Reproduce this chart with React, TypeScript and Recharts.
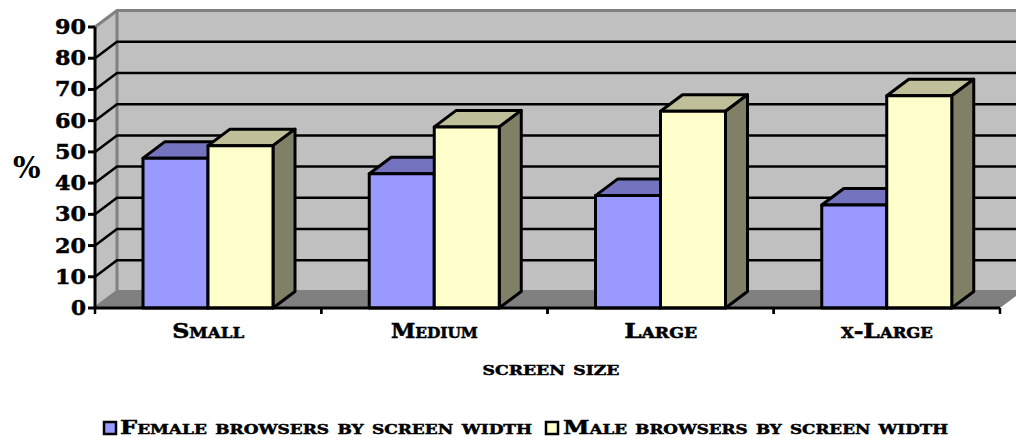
import React from 'react';
import { BarChart, Bar, XAxis, YAxis, CartesianGrid, ReferenceArea, Legend } from 'recharts';

const categories = ['Small', 'Medium', 'Large', 'x-Large'];
const femaleValues = [48, 43, 36, 33];
const maleValues = [52, 58, 63, 68];
const valueTicks = [0, 10, 20, 30, 40, 50, 60, 70, 80, 90];
const femaleName = 'Female browsers by screen width';
const maleName = 'Male browsers by screen width';
const rows = categories.map((name, i) => ({ name, female: femaleValues[i], male: maleValues[i] }));

const DX = 22;
const DY = 16.5;
const FONT = '"DejaVu Serif", serif';
const WALL = '#C0C0C0';
const EDGE = '#808080';
const PLOT_TOP = 27;
const PLOT_BOTTOM = 308;
const BAND = 226.25;

const heavy = { stroke: '#000', strokeWidth: 0.5, paintOrder: 'stroke' } as const;

const box3d = (front: string, top: string, side: string) => (p: any) => {
  const { x, y, width, height } = p;
  return (
    <g stroke="#000" strokeWidth={3} strokeLinejoin="round">
      <polygon points={`${x},${y} ${x + DX},${y - DY} ${x + width + DX},${y - DY} ${x + width},${y}`} fill={top} />
      <polygon points={`${x + width},${y} ${x + width + DX},${y - DY} ${x + width + DX},${y + height - DY} ${x + width},${y + height}`} fill={side} />
      <rect x={x} y={y} width={width} height={height} fill={front} />
    </g>
  );
};

// Side wall, back wall and floor of the 3D box, derived from the plot rectangle.
const Walls = (p: any) => {
  const { x, y, width, height } = p;
  const r = x + width;
  const b = y + height;
  return (
    <g>
      <polygon points={`${x},${y} ${x + DX},${y - DY} ${x + DX},${b - DY} ${x},${b}`} fill={WALL} />
      <rect x={x + DX} y={y - DY} width={width + 40} height={height} fill={WALL} />
      <polygon points={`${x},${b} ${x + DX},${b - DY} ${r + DX},${b - DY} ${r},${b}`} fill={EDGE} />
      <path d={`M${x},${y} L${x + DX},${y - DY} H${r + 40} M${x + DX},${y - DY} V${b - DY} L${x},${b} M${x + DX},${b - DY} H${r + 40}`} fill="none" stroke={EDGE} strokeWidth={3} />
    </g>
  );
};

// Each horizontal grid line runs along the side wall and across the back wall.
const gridLine = (p: any) => {
  const { x1, x2, y1 } = p;
  if (Math.abs(y1 - PLOT_TOP) < 1 || Math.abs(y1 - PLOT_BOTTOM) < 1) return <g key={p.key} />;
  return (
    <path key={p.key} d={`M${x1},${y1} L${x1 + DX},${y1 - DY} H${x2 + 40}`} fill="none" stroke="#000" strokeWidth={2.5} />
  );
};

const CategoryTick = (p: any) => {
  const { x, payload } = p;
  const widths: Record<string, number> = { Small: 72, Medium: 87, Large: 73, 'x-Large': 92 };
  return (
    <g>
      <line x1={x - BAND / 2} x2={x - BAND / 2} y1={PLOT_BOTTOM} y2={PLOT_BOTTOM + 6} stroke="#000" strokeWidth={2.5} />
      <line x1={x + BAND / 2} x2={x + BAND / 2} y1={PLOT_BOTTOM} y2={PLOT_BOTTOM + 6} stroke="#000" strokeWidth={2.5} />
      <text x={x} y={338} textAnchor="middle" fontFamily={FONT} fontWeight={700} fontSize={20} fontVariant="small-caps" fill="#000" textLength={widths[payload.value]} lengthAdjust="spacingAndGlyphs" {...heavy}>
        {payload.value}
      </text>
    </g>
  );
};

const ValueTick = (p: any) => {
  const { x, y, payload } = p;
  const label = String(payload.value);
  return (
    <text x={86} y={y + 7} textAnchor="end" fontFamily={FONT} fontWeight={700} fontSize={20} fill="#000" textLength={label.length > 1 ? 31 : 15} lengthAdjust="spacingAndGlyphs" {...heavy}>
      {label}
    </text>
  );
};

const AxisTitle = (p: any) => (
  <text x={551} y={375} textAnchor="middle" fontFamily={FONT} fontWeight={700} fontSize={18} fontVariant="small-caps" fill="#000" textLength={137} lengthAdjust="spacingAndGlyphs" {...heavy}>
    {p.text}
  </text>
);

const LegendRow = () => (
  <svg width={1016} height={19} style={{ display: 'block', overflow: 'visible' }}>
    <rect x={104} y={3} width={12} height={12} fill="#9999FF" stroke="#000" strokeWidth={2.5} />
    <text x={120} y={14.5} fontFamily={FONT} fontWeight={700} fontSize={18.5} fontVariant="small-caps" textLength={412} lengthAdjust="spacingAndGlyphs" {...heavy}>{femaleName}</text>
    <rect x={546} y={3} width={12} height={12} fill="#FFFFCC" stroke="#000" strokeWidth={2.5} />
    <text x={563} y={14.5} fontFamily={FONT} fontWeight={700} fontSize={18.5} fontVariant="small-caps" textLength={385} lengthAdjust="spacingAndGlyphs" {...heavy}>{maleName}</text>
  </svg>
);

export default function App() {
  return (
    <div style={{ position: 'absolute', left: 0, top: 0 }}>
      <BarChart width={1016} height={438} data={rows} barSize={65} barGap={0} margin={{ top: PLOT_TOP, right: 16, bottom: 0, left: 0 }}>
        <ReferenceArea x1="Small" x2="x-Large" y1={0} y2={90} ifOverflow="visible" shape={(p: any) => <Walls {...p} x={95} width={905} />} zIndex={-200} />
        <CartesianGrid vertical={false} horizontal={gridLine} />
        <XAxis
          dataKey="name"
          height={111}
          interval={0}
          tick={<CategoryTick />}
          tickLine={false}
          axisLine={{ stroke: '#000', strokeWidth: 3 }}
          label={<AxisTitle text="screen size" />}
        />
        <YAxis
          domain={[0, 90]}
          ticks={valueTicks}
          interval={0}
          width={95}
          tickSize={7}
          tick={<ValueTick />}
          tickLine={{ stroke: '#000', strokeWidth: 3 }}
          axisLine={{ stroke: '#000', strokeWidth: 3 }}
          label={{ value: '%', position: 'insideLeft', dx: 8, dy: 0, fontFamily: FONT, fontWeight: 700, fontSize: 29, fill: '#000' }}
        />
        <Legend verticalAlign="bottom" height={19} content={<LegendRow />} wrapperStyle={{ left: 0, bottom: 0, width: 1016 }} />
        <Bar dataKey="female" name={femaleName} isAnimationActive={false} shape={box3d('#9999FF', '#7373BF', '#737399')} />
        <Bar dataKey="male" name={maleName} isAnimationActive={false} shape={box3d('#FFFFCC', '#BFBF99', '#808066')} />
      </BarChart>
    </div>
  );
}
